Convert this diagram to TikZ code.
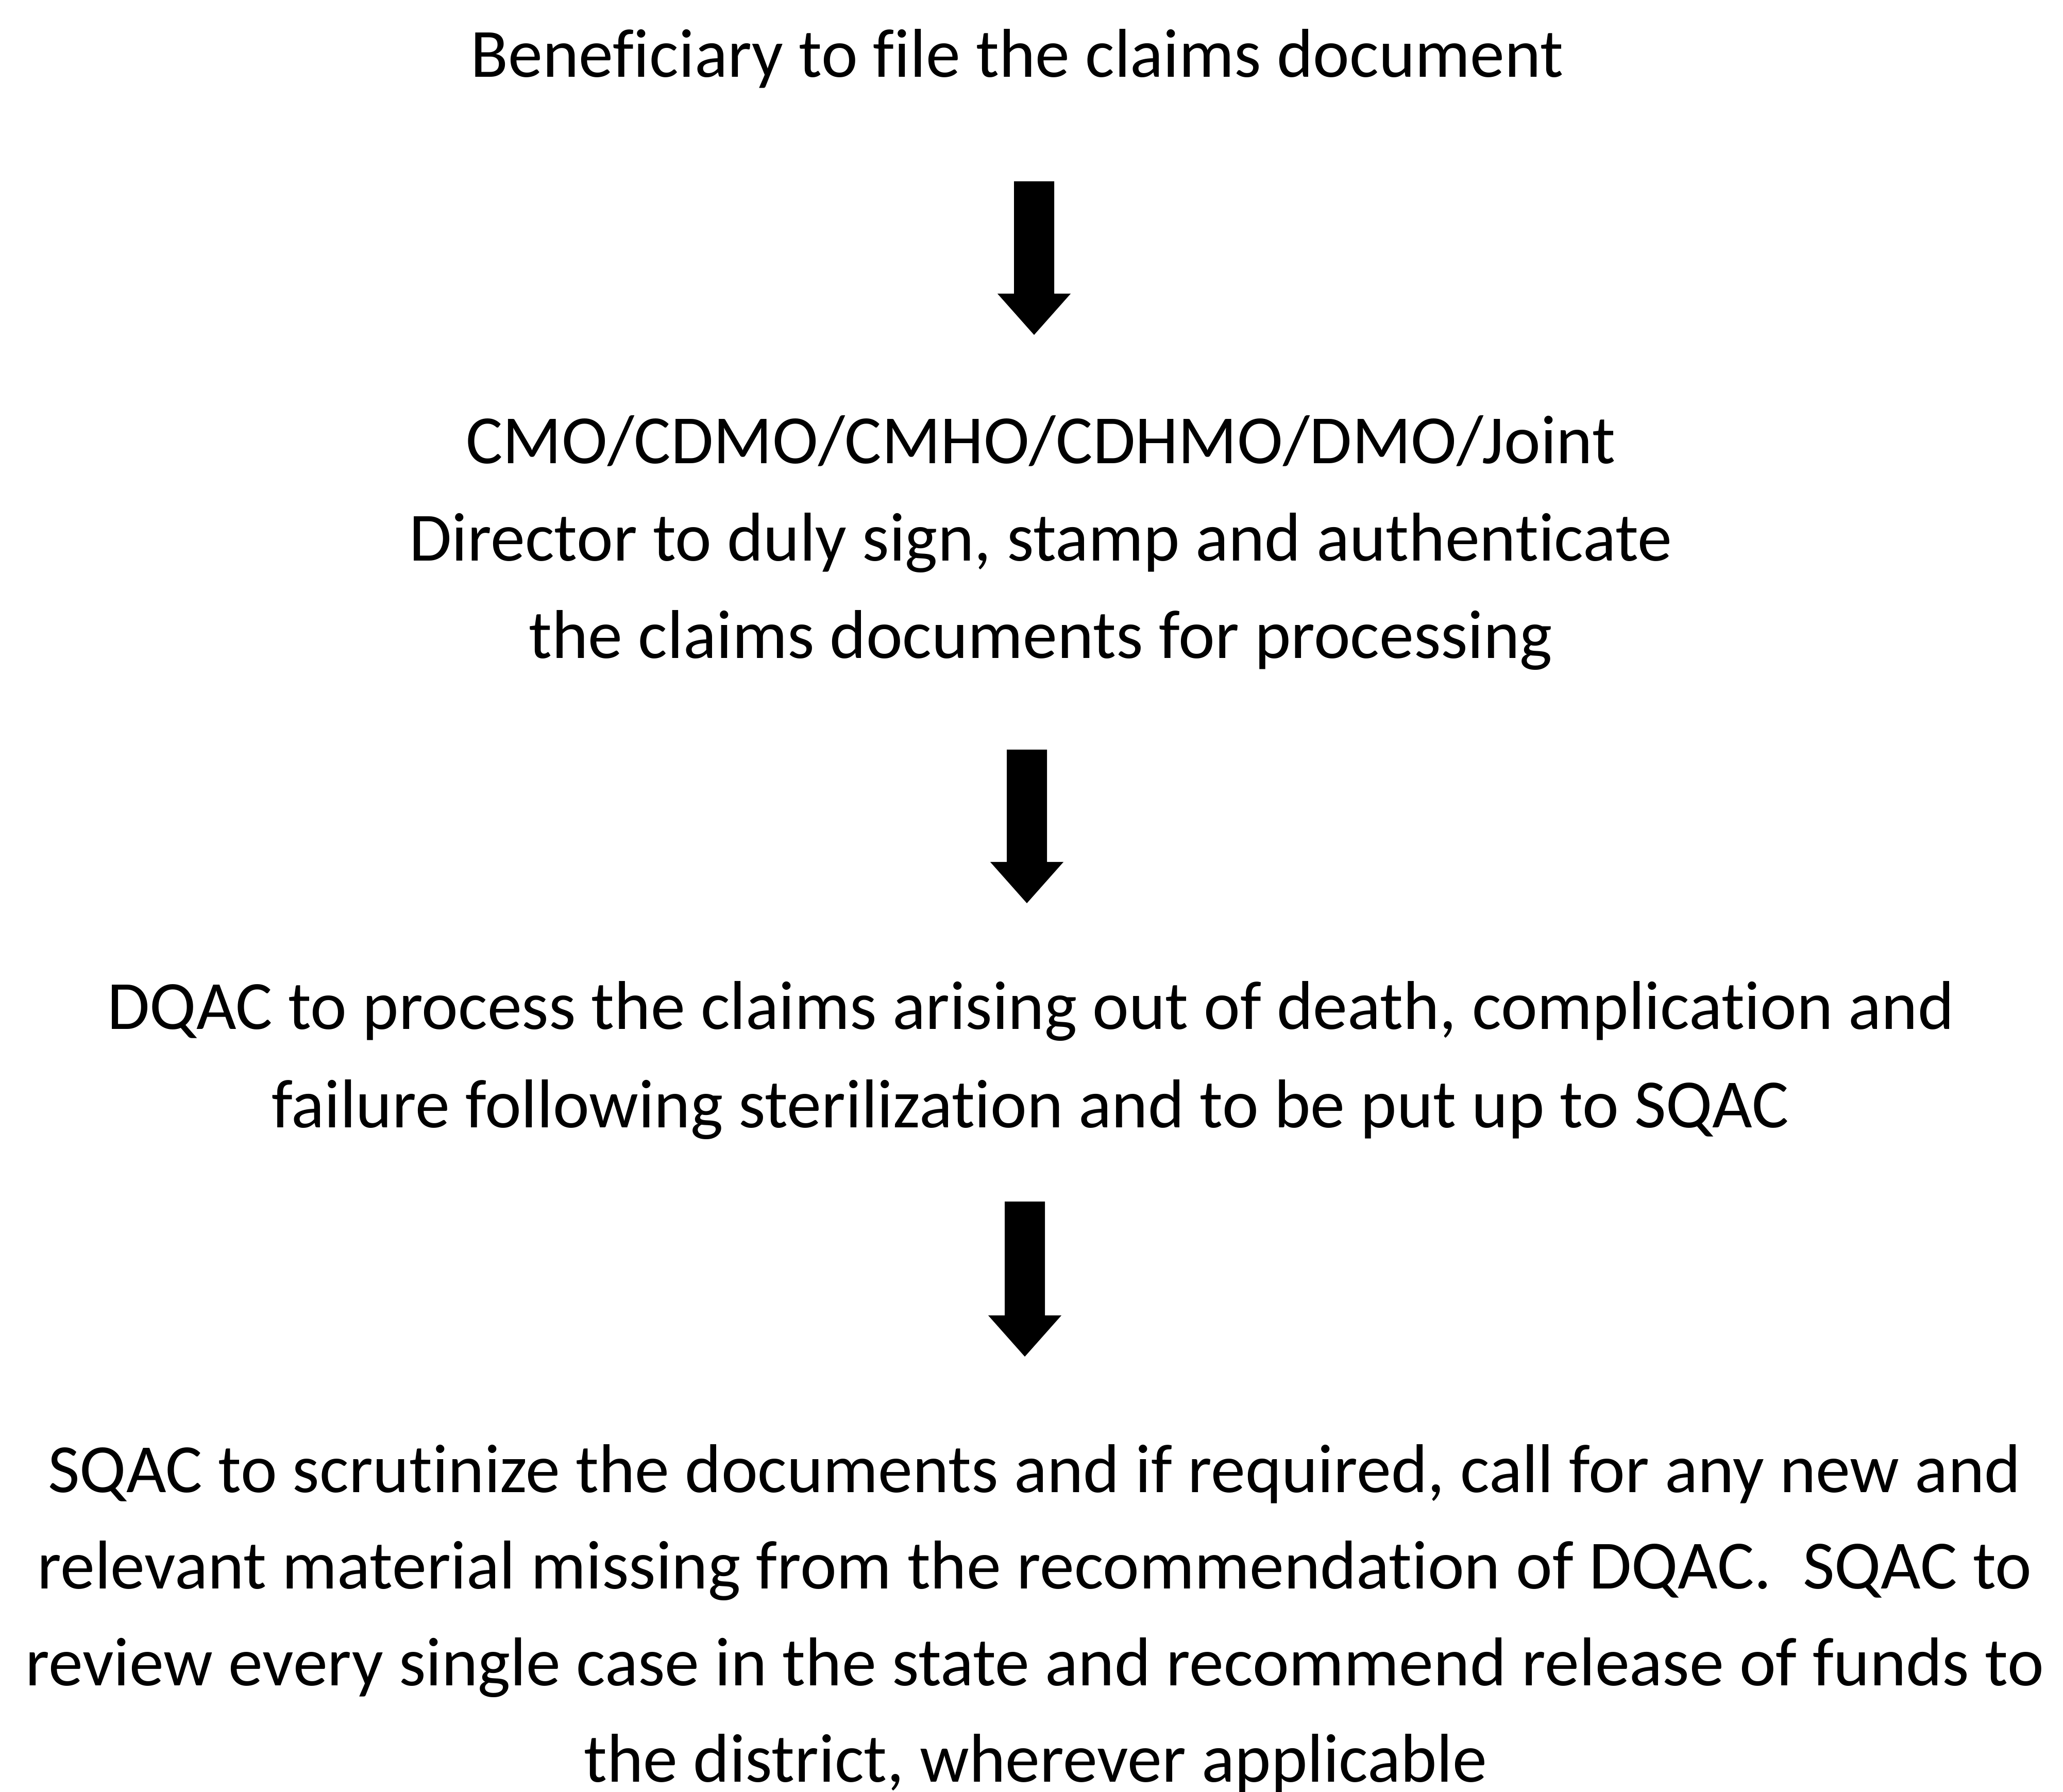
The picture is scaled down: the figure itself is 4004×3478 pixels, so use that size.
\documentclass[tikz,border=0pt]{standalone}
\usepackage{fontspec}
\setmainfont[Ligatures=NoCommon]{Carlito}
\usetikzlibrary{calc}
\tikzset{
  line/.style={anchor=base, inner sep=0pt, font=\fontsize{13.4pt}{16pt}\selectfont},
  blockarrow/.style={fill=black}
}
\begin{document}
\begin{tikzpicture}[x=0.1pt, y=-0.1pt]
\fill[white] (0,0) rectangle (4004,3478);
\useasboundingbox (0,0) rectangle (4004,3478);

% Step 1
\node[line] (s1) at (1974,150) {Beneficiary to file the claims document};

% Step 2
\node[line] (s2a) at (2020,900) {CMO/CDMO/CMHO/CDHMO/DMO/Joint};
\node[line] (s2b) at (2020,1089) {Director to duly sign, stamp and authenticate};
\node[line] (s2c) at (2020,1278) {the claims documents for processing};

% Step 3
\node[line] (s3a) at (2001,1998) {DQAC to process the claims arising out of death, complication and};
\node[line] (s3b) at (2000,2188) {failure following sterilization and to be put up to SQAC};

% Step 4
\node[line] (s4a) at (2008,2896) {SQAC to scrutinize the documents and if required, call for any new and};
\node[line] (s4b) at (2008,3083) {relevant material missing from the recommendation of DQAC.\ \ SQAC to};
\node[line] (s4c) at (2008,3271) {review every single case in the state and recommend release of funds to};
\node[line] (s4d) at (2010,3458) {the district, wherever applicable};

% Arrows
\coordinate (a1t) at (2007,352);  \coordinate (a1h) at (2007,650);
\coordinate (a2t) at (1993,1455); \coordinate (a2h) at (1993,1753);
\coordinate (a3t) at (1989,2332); \coordinate (a3h) at (1989,2633);

\foreach \t/\h in {a1t/a1h, a2t/a2h, a3t/a3h}{
  \fill[blockarrow] ($(\t)+(-39,0)$) -- ($(\t)+(39,0)$) -- ($(\h)+(39,-80)$) -- ($(\h)+(71,-80)$)
    -- (\h) -- ($(\h)+(-71,-80)$) -- ($(\h)+(-39,-80)$) -- cycle;
}
\end{tikzpicture}
\end{document}
